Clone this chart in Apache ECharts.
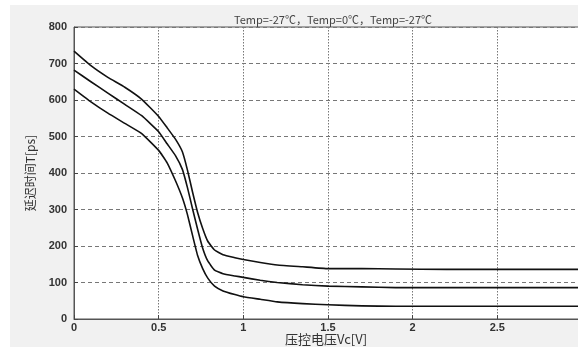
<!DOCTYPE html>
<html>
<head>
<meta charset="utf-8">
<script src="https://cdn.jsdelivr.net/npm/echarts@6/dist/echarts.min.js"></script>
<style>
html,body{margin:0;padding:0;background:#fff;overflow:hidden;}
#bg{position:absolute;left:10px;top:5px;right:0;bottom:0;background:#f1f1f1;}
#chart{position:absolute;left:0;top:0;width:578px;height:347px;}
</style>
</head>
<body>
<div id="bg"></div>
<div id="chart"></div>
<script>
// control voltage Vc [V]
const VC=[0,0.1,0.2,0.3,0.4,0.5,0.55,0.6,0.64,0.67,0.7,0.73,0.76,0.79,0.83,0.88,0.95,1.0,1.1,1.2,1.35,1.5,1.7,1.9,2.2,2.5,3.0];
// delay time T [ps]
const T_TOP=[734,694,662,635,602,555,524,492,458,408,348,292,248,213,189,176,168,163,155,148,143,138,138,137,136,136,136];
const T_MID=[682,650,619,588,557,513,480,447,410,360,302,246,194,159,134,124,118,114,106,100,94,90,88,86,86,86,86];
const T_BOT=[630,595,564,536,508,462,428,378,332,286,229,174,138,112,90,77,67,61,54,47,42,39,36,35,35,35,35];
const TITLE='Temp=-27℃，Temp=0℃，Temp=-27℃';
const X_NAME='压控电压Vc[V]', Y_NAME='延迟时间T[ps]';

const F="'Liberation Sans',Arial,sans-serif", CJK="'Noto Sans CJK SC','Liberation Sans',sans-serif";
const pair=(ys)=>VC.map((x,i)=>[x,ys[i]]);
const line=(ys)=>({type:'line',data:pair(ys),symbol:'none',smooth:0.12,lineStyle:{color:'#111',width:1.6,join:'round'},z:5});

const chart=echarts.init(document.getElementById('chart'),null,{renderer:'canvas'});
chart.setOption({
  backgroundColor:'transparent',
  animation:false,
  title:[
    {text:TITLE,left:328,textAlign:'center',top:9,textStyle:{fontFamily:CJK,fontSize:11,fontWeight:'normal',color:'#444'}},
    // x-axis name drawn as a title so it sits right under the tick labels
    {text:X_NAME,left:326,textAlign:'center',top:333,padding:0,textStyle:{fontFamily:CJK,fontSize:13,fontWeight:'normal',color:'#333'}}
  ],
  grid:{left:74,top:27,width:508,height:292,outerBoundsMode:'none',containLabel:false,show:true,backgroundColor:'#fff',borderColor:'#555',borderWidth:1},
  xAxis:{type:'value',min:0,max:3,interval:0.5,
    axisLine:{lineStyle:{color:'#555'}},axisTick:{inside:true,length:4,lineStyle:{color:'#444'}},
    axisLabel:{fontFamily:F,fontSize:11,fontWeight:'bold',color:'#333',margin:3},
    splitLine:{show:true,lineStyle:{color:'#777',type:[1.5,1.5],width:1}}},
  yAxis:{type:'value',min:0,max:800,interval:100,
    name:Y_NAME,nameLocation:'middle',nameGap:38,nameRotate:90,nameTextStyle:{fontFamily:CJK,fontSize:12,color:'#333'},
    axisLine:{show:true,lineStyle:{color:'#555'}},axisTick:{show:true,inside:true,length:4,lineStyle:{color:'#444'}},
    axisLabel:{fontFamily:F,fontSize:11,fontWeight:'bold',color:'#333',margin:7},
    splitLine:{show:true,lineStyle:{color:'#777',type:[4,3],width:1}}},
  series:[line(T_TOP),line(T_MID),line(T_BOT)]
});
</script>
</body>
</html>
